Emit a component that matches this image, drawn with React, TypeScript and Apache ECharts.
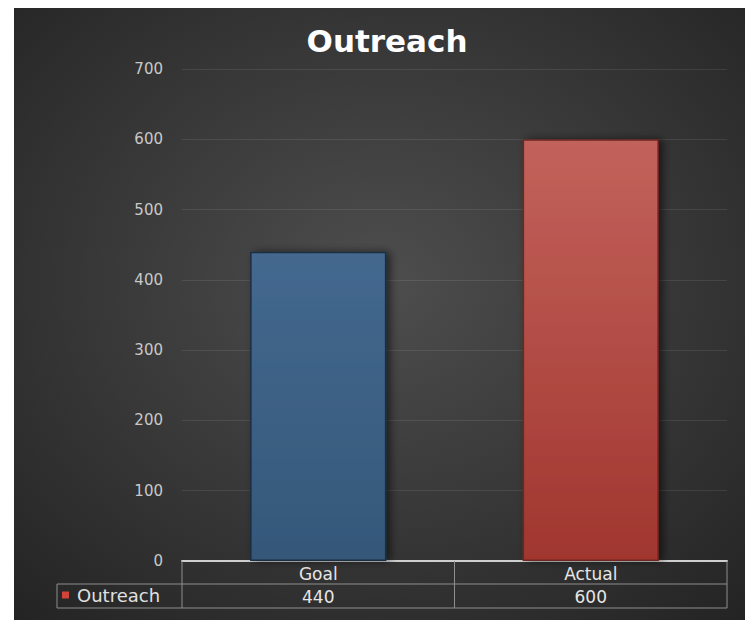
import React, { useEffect, useRef } from "react";
import * as echarts from "echarts";

const chartTitle = "Outreach";
const seriesName = "Outreach";
const categories = ["Goal", "Actual"];
const values = [440, 600];
const yMin = 0;
const yMax = 700;
const yInterval = 100;

const W = 745;
const H = 622;
const gridLeft = 182;
const gridRight = 727;
const gridTop = 69;
const axisY = 561;
const rowY = 584;
const tableBottom = 608;
const tableLeft = 57;

const FONT = "'DejaVu Sans', sans-serif";

export default function App() {
  const ref = useRef<HTMLDivElement>(null);
  useEffect(() => {
    if (!ref.current) return;
    const chart = echarts.init(ref.current, null, { renderer: "svg" });

    const lineStyle = { stroke: "#8e8e8e", lineWidth: 1 };
    const tableLines: any[] = [];
    const n = categories.length;
    for (let i = 0; i <= n; i++) {
      const x = gridLeft + ((gridRight - gridLeft) * i) / n;
      tableLines.push({
        type: "line",
        z: 100,
        silent: true,
        shape: { x1: x, y1: axisY, x2: x, y2: tableBottom },
        style: lineStyle,
      });
    }
    tableLines.push({
      type: "line",
      z: 100,
      silent: true,
      shape: { x1: tableLeft, y1: rowY, x2: gridRight, y2: rowY },
      style: lineStyle,
    });
    tableLines.push({
      type: "line",
      z: 100,
      silent: true,
      shape: { x1: tableLeft, y1: tableBottom, x2: gridRight, y2: tableBottom },
      style: lineStyle,
    });
    tableLines.push({
      type: "line",
      z: 100,
      silent: true,
      shape: { x1: tableLeft, y1: rowY, x2: tableLeft, y2: tableBottom },
      style: lineStyle,
    });

    const barColors = [
      { top: "#44688f", bottom: "#345879", border: "#1d2e42" },
      { top: "#c2625b", bottom: "#a1362f", border: "#6e2621" },
    ];

    chart.setOption({
      animation: false,
      backgroundColor: "#ffffff",
      title: {
        text: chartTitle,
        left: 382,
        textAlign: "center",
        top: 20,
        textStyle: {
          color: "#ffffff",
          fontFamily: FONT,
          fontSize: 31,
          fontWeight: "bold",
        },
      },
      legend: {
        left: 62,
        top: rowY + 2,
        padding: 0,
        itemWidth: 7,
        itemHeight: 7,
        icon: "rect",
        data: [{ name: seriesName, itemStyle: { color: "#d2433a" } }],
        textStyle: {
          color: "#e0e0e0",
          fontFamily: FONT,
          fontSize: 18,
          padding: [0, 0, 0, 3],
        },
        selectedMode: false,
      },
      grid: {
        left: gridLeft,
        right: W - gridRight,
        top: gridTop,
        bottom: H - axisY,
      },
      xAxis: {
        type: "category",
        data: categories,
        axisLine: { show: true, lineStyle: { color: "#cfcfcf", width: 2 } },
        axisTick: { show: false },
        axisLabel: {
          margin: 1,
          interval: 0,
          formatter: (v: string, i: number) => `{n|${v}}\n{v|${values[i]}}`,
          rich: {
            n: {
              color: "#e6e6e6",
              fontFamily: FONT,
              fontSize: 17,
              lineHeight: 23,
            },
            v: {
              color: "#e6e6e6",
              fontFamily: FONT,
              fontSize: 17,
              lineHeight: 23,
            },
          },
        },
      },
      yAxis: {
        type: "value",
        min: yMin,
        max: yMax,
        interval: yInterval,
        axisLine: { show: false },
        axisTick: { show: false },
        axisLabel: {
          color: "#c8c8c8",
          fontFamily: FONT,
          fontSize: 15,
          margin: 19,
        },
        splitLine: { lineStyle: { color: "rgba(255,255,255,0.09)", width: 1 } },
      },
      graphic: [
        {
          type: "rect",
          z: -100,
          silent: true,
          shape: { x: 14, y: 8, width: W - 14, height: 612 },
          style: {
            fill: new echarts.graphic.RadialGradient(0.5, 0.45, 0.75, [
              { offset: 0, color: "#4e4e4e" },
              { offset: 1, color: "#232323" },
            ]),
          },
        },
        ...tableLines,
      ],
      series: [
        {
          name: seriesName,
          type: "bar",
          barWidth: "50%",
          data: values.map((v, i) => ({
            value: v,
            itemStyle: {
              color: new echarts.graphic.LinearGradient(0, 0, 0, 1, [
                { offset: 0, color: barColors[i].top },
                { offset: 1, color: barColors[i].bottom },
              ]),
              borderColor: barColors[i].border,
              borderWidth: 1.5,
              shadowColor: "rgba(0,0,0,0.55)",
              shadowBlur: 8,
              shadowOffsetX: 4,
            },
          })),
        },
      ],
    });
    return () => chart.dispose();
  }, []);
  return (
    <div
      ref={ref}
      style={{ position: "absolute", left: 0, top: 0, width: W, height: H }}
    />
  );
}
